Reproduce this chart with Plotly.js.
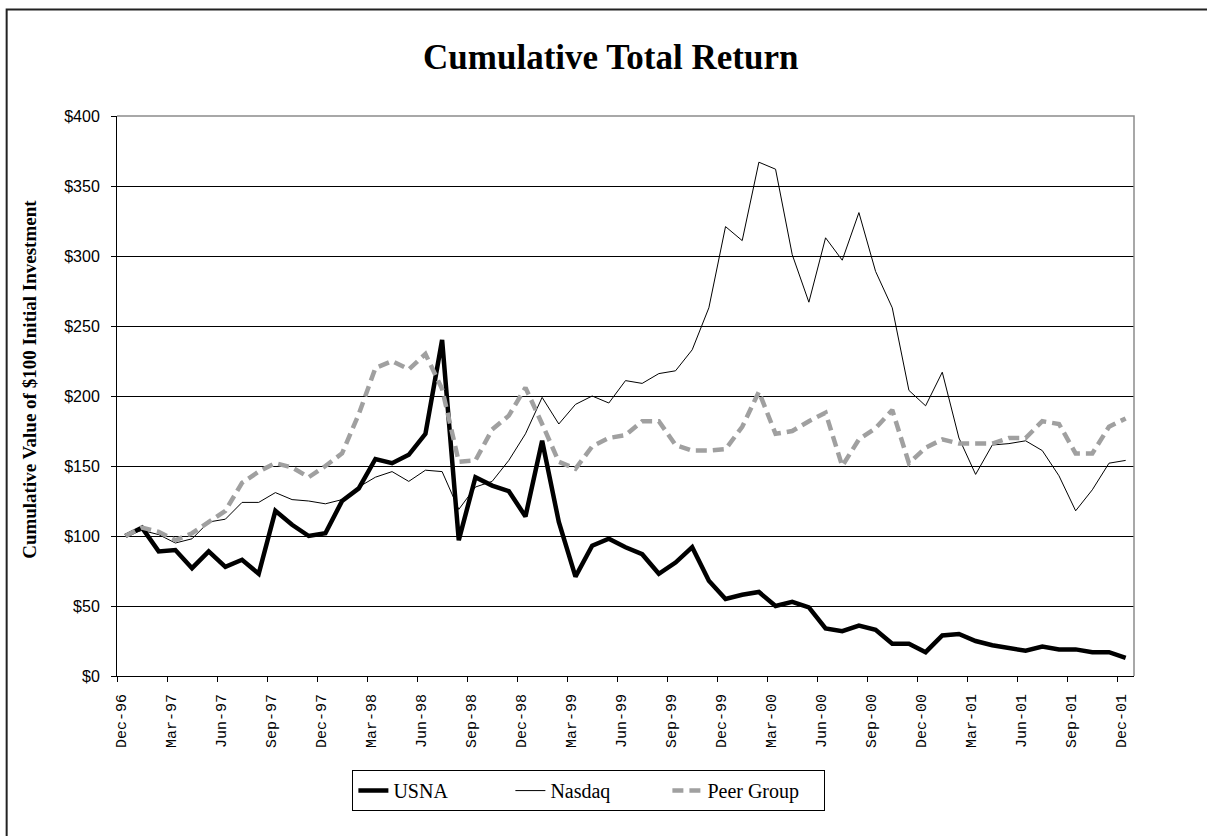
<!DOCTYPE html>
<html>
<head>
<meta charset="utf-8">
<script src="https://cdn.plot.ly/plotly-3.0.1.min.js"></script>
<style>
  html, body { margin: 0; padding: 0; background: #fff; }
  #chart { width: 1207px; height: 836px; }
</style>
</head>
<body>
<div id="chart"></div>
<script>
// Monthly categories, Dec-96 .. Dec-01
const months = [
  "Dec-96",
  "Jan-97","Feb-97","Mar-97","Apr-97","May-97","Jun-97","Jul-97","Aug-97","Sep-97","Oct-97","Nov-97","Dec-97",
  "Jan-98","Feb-98","Mar-98","Apr-98","May-98","Jun-98","Jul-98","Aug-98","Sep-98","Oct-98","Nov-98","Dec-98",
  "Jan-99","Feb-99","Mar-99","Apr-99","May-99","Jun-99","Jul-99","Aug-99","Sep-99","Oct-99","Nov-99","Dec-99",
  "Jan-00","Feb-00","Mar-00","Apr-00","May-00","Jun-00","Jul-00","Aug-00","Sep-00","Oct-00","Nov-00","Dec-00",
  "Jan-01","Feb-01","Mar-01","Apr-01","May-01","Jun-01","Jul-01","Aug-01","Sep-01","Oct-01","Nov-01","Dec-01"
];

// Cumulative value of $100 initial investment
const usna = [
  100,
  106, 89, 90, 77, 89, 78, 83, 73, 118, 108, 100, 102,
  125, 134, 155, 152, 158, 173, 240, 97, 142, 136, 132, 114,
  168, 110, 71, 93, 98, 92, 87, 73, 81, 92, 68, 55,
  58, 60, 50, 53, 49, 34, 32, 36, 33, 23, 23, 17,
  29, 30, 25, 22, 20, 18, 21, 19, 19, 17, 17, 13
];
const nasdaq = [
  100,
  104, 101, 95, 98, 110, 112, 124, 124, 131, 126, 125, 123,
  126, 135, 142, 146, 139, 147, 146, 119, 135, 139, 154, 173,
  199, 180, 194, 200, 195, 211, 209, 216, 218, 233, 263, 321,
  311, 367, 362, 301, 267, 313, 297, 331, 289, 263, 204, 193,
  217, 170, 144, 165, 166, 168, 161, 143, 118, 133, 152, 154
];
const peer = [
  100,
  106, 103, 97, 102, 110, 118, 138, 146, 152, 149, 142, 150,
  159, 187, 220, 225, 219, 230, 205, 153, 154, 176, 186, 206,
  180, 153, 148, 164, 170, 172, 182, 182, 165, 161, 161, 162,
  178, 203, 173, 175, 182, 188, 150, 169, 177, 190, 152, 163,
  169, 166, 166, 166, 170, 170, 182, 180, 159, 159, 178, 184
];

const seriesNames = ["USNA", "Nasdaq", "Peer Group"];
const yTicks = [0, 50, 100, 150, 200, 250, 300, 350, 400];
const yTickText = yTicks.map(v => "$" + v);
const labelStep = 3;

// category index positions
const xIdx = months.map((_, i) => i);
// tick marks sit on category boundaries (Excel "between categories")
const tickIdx = xIdx.filter(i => i % labelStep === 0);
const tickPos = tickIdx.map(i => i - 0.5);
const tickText = tickIdx.map(i => months[i]);

const traces = [
  {
    x: xIdx, y: usna, name: seriesNames[0], type: "scatter", mode: "lines",
    line: { color: "#000000", width: 4.5 },
    hoverinfo: "skip"
  },
  {
    x: xIdx, y: nasdaq, name: seriesNames[1], type: "scatter", mode: "lines",
    line: { color: "#000000", width: 1 },
    hoverinfo: "skip"
  },
  {
    x: xIdx, y: peer, name: seriesNames[2], type: "scatter", mode: "lines",
    line: { color: "#a0a0a0", width: 4.5, dash: "11px,6px" },
    hoverinfo: "skip"
  }
];

const layout = {
  width: 1207,
  height: 836,
  paper_bgcolor: "#ffffff",
  plot_bgcolor: "#ffffff",
  margin: { l: 117, r: 73, t: 116, b: 160 },
  showlegend: true,
  title: {
    text: "Cumulative Total Return",
    font: { family: "Liberation Serif", size: 35, color: "#000000", weight: "bold" },
    xref: "container", x: 0.506, xanchor: "center",
    yref: "container", y: 0.932, yanchor: "middle"
  },
  xaxis: {
    type: "linear",
    range: [-0.5, months.length - 0.5],
    tickmode: "array",
    tickvals: tickPos,
    ticktext: tickText,
    tickangle: -90,
    ticks: "outside",
    ticklen: 5,
    tickcolor: "#000000",
    ticklabelshift: 4,
    ticklabelstandoff: 6,
    tickfont: { family: "Liberation Mono", size: 15, color: "#000000" },
    showgrid: false,
    zeroline: false,
    showline: true,
    linecolor: "#000000",
    linewidth: 1,
    fixedrange: true
  },
  yaxis: {
    range: [0, 400],
    tickmode: "array",
    tickvals: yTicks,
    ticktext: yTickText,
    ticks: "outside",
    ticklen: 5,
    tickcolor: "#000000",
    ticklabelstandoff: 8,
    tickfont: { family: "Liberation Sans", size: 16, color: "#000000" },
    showgrid: true,
    gridcolor: "#000000",
    gridwidth: 1,
    zeroline: false,
    showline: true,
    linecolor: "#000000",
    linewidth: 1,
    fixedrange: true
  },
  legend: {
    orientation: "h",
    x: 0.464, xanchor: "center",
    y: -0.168, yanchor: "top",
    bgcolor: "#ffffff",
    bordercolor: "#000000",
    borderwidth: 1,
    entrywidth: 112,
    font: { family: "Liberation Serif", size: 20, color: "#000000" },
    traceorder: "normal"
  },
  annotations: [
    {
      text: "Cumulative Value of $100 Initial Investment",
      xref: "paper", yref: "paper",
      x: -0.0859, y: 0.53,
      xanchor: "center", yanchor: "middle",
      textangle: -90,
      showarrow: false,
      font: { family: "Liberation Serif", size: 19, color: "#000000", weight: "bold" }
    }
  ],
  shapes: [
    // outer chart frame (right/bottom edges fall outside the picture)
    {
      type: "rect", xref: "paper", yref: "paper",
      x0: -0.1085, x1: 1.3, y0: -0.6, y1: 1.19,
      line: { color: "#222222", width: 2 },
      fillcolor: "rgba(0,0,0,0)", layer: "below"
    },
    // grey plot-area border on top and right
    {
      type: "path", xref: "paper", yref: "paper",
      path: "M0,1 L1,1 L1,0",
      line: { color: "#8c8c8c", width: 1.5 },
      layer: "above"
    }
  ]
};

Plotly.newPlot("chart", traces, layout, { displayModeBar: false, staticPlot: true });
</script>
</body>
</html>
